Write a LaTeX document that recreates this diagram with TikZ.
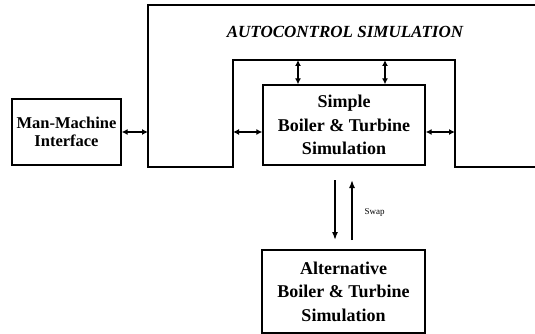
\documentclass[tikz,border=0pt]{standalone}
\usepackage{fontspec}
\setmainfont{Liberation Serif}
\usetikzlibrary{arrows.meta}
\begin{document}
\begin{tikzpicture}[x=1pt,y=-1pt,
  box/.style={draw,line width=1.3pt,inner sep=0pt,align=center,font=\bfseries\fontsize{18}{23.5}\selectfont},
  frame/.style={line width=1.3pt},
  dbl/.style={{Latex[length=6pt,width=6pt]}-{Latex[length=6pt,width=6pt]},line width=1.5pt},
  sgl/.style={-{Latex[length=8pt,width=6pt]},line width=1.5pt}]
\useasboundingbox (0,0) rectangle (535,334);
\node[box,minimum width=109pt,minimum height=66pt,font=\bfseries\fontsize{16.5}{17.5}\selectfont] (mmi) at (66.5,132) {Man-Machine\\Interface};
\node[box,minimum width=162pt,minimum height=80pt] (simple) at (344,125) {Simple\\Boiler \& Turbine\\Simulation};
\node[box,minimum width=163pt,minimum height=83pt] (alt) at (343.5,291.5) {Alternative\\Boiler \& Turbine\\Simulation};
\coordinate (o1) at (536,5);
\coordinate (o2) at (148,5);
\coordinate (o3) at (148,167);
\coordinate (o4) at (233,167);
\coordinate (o5) at (233,60);
\coordinate (o6) at (455,60);
\coordinate (o7) at (455,167);
\coordinate (o8) at (536,167);
\draw[frame] (o1) -- (o2) -- (o3) -- (o4) -- (o5) -- (o6) -- (o7) -- (o8);
\node[font=\bfseries\itshape\fontsize{17}{20}\selectfont] (title) at (345,32) {AUTOCONTROL SIMULATION};
\coordinate (ml) at (148,132);
\coordinate (il) at (233,132);
\coordinate (ir) at (455,132);
\draw[dbl] (mmi.east |- ml) -- (ml);
\draw[dbl] (il) -- (simple.west |- il);
\draw[dbl] (simple.east |- ir) -- (ir);
\coordinate (t1) at (298,60);
\coordinate (t2) at (385,60);
\draw[dbl] (t1) -- (t1 |- simple.north);
\draw[dbl] (t2) -- (t2 |- simple.north);
\coordinate (s1) at (335,180);
\coordinate (s2) at (335,240);
\coordinate (s3) at (352,180);
\coordinate (s4) at (352,240);
\draw[sgl] (s1) -- (s2);
\draw[sgl] (s4) -- (s3);
\node[font=\fontsize{9}{10}\selectfont,anchor=west] (swap) at (361,212) {Swap};
\end{tikzpicture}
\end{document}
